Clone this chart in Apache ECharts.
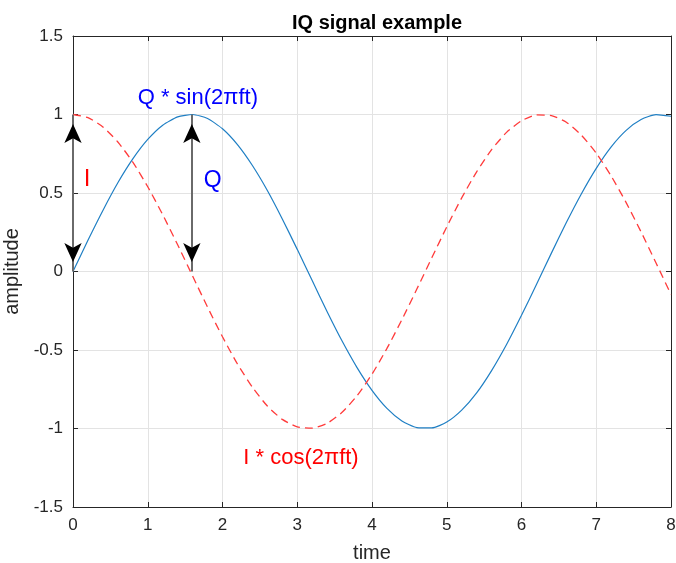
<!DOCTYPE html>
<html><head><meta charset="utf-8">
<script src="https://cdn.jsdelivr.net/npm/echarts@6/dist/echarts.min.js"></script>
<style>html,body{margin:0;padding:0;background:#fff}#c{width:676px;height:563px}</style>
</head><body><div id="c"></div>
<script>
var timeValues = [0,0.2,0.4,0.6,0.8,1.0,1.2,1.4,1.6,1.8,2.0,2.2,2.4,2.6,2.8,3.0,3.2,3.4,3.6,3.8,4.0,4.2,4.4,4.6,4.8,5.0,5.2,5.4,5.6,5.8,6.0,6.2,6.4,6.6,6.8,7.0,7.2,7.4,7.6,7.8,8.0];
var qSin = [0,0.199,0.389,0.565,0.717,0.841,0.932,0.985,1.000,0.974,0.909,0.808,0.675,0.516,0.335,0.141,-0.058,-0.256,-0.443,-0.612,-0.757,-0.872,-0.952,-0.994,-0.996,-0.959,-0.883,-0.773,-0.631,-0.465,-0.279,-0.083,0.117,0.312,0.494,0.657,0.794,0.899,0.968,0.999,0.989];
var iCos = [1,0.980,0.921,0.825,0.697,0.540,0.362,0.170,-0.029,-0.227,-0.416,-0.589,-0.737,-0.857,-0.942,-0.990,-0.998,-0.967,-0.897,-0.791,-0.654,-0.490,-0.307,-0.112,0.087,0.284,0.469,0.635,0.776,0.886,0.960,0.997,0.993,0.951,0.869,0.754,0.608,0.439,0.252,0.054,-0.146];
var arrows = [[0,0,1],[1.59,0,1]];
var labels = [
  {x:1.67, y:1.106, text:'Q * sin(2πft)', color:'#0000ff', size:22},
  {x:0.19, y:0.585, text:'I', color:'#ff0000', size:24},
  {x:1.87, y:0.58, text:'Q', color:'#0000ff', size:23},
  {x:3.05, y:-1.19, text:'I * cos(2πft)', color:'#ff0000', size:22}
];

function zip(xs, ys){ return xs.map(function(x,i){return [x, ys[i]];}); }
var font = 'Helvetica, Arial, "Liberation Sans", sans-serif';
var axisCol = '#262626';
var gridCol = '#e3e3e3';

var arrowHeads = [];
arrows.forEach(function(a){
  arrowHeads.push({value:[a[0],a[2]], symbolRotate:0, symbolOffset:[0,9.5]});
  arrowHeads.push({value:[a[0],a[1]], symbolRotate:180, symbolOffset:[0,-9.5]});
});

var chart = echarts.init(document.getElementById('c'), null, {renderer:'canvas'});
chart.setOption({
  animation:false,
  title:{text:'IQ signal example', left:372, textAlign:'center', top:8,
    textStyle:{fontFamily:font, fontSize:20, fontWeight:'bold', color:'#000'}},
  grid:{left:73, right:5, top:36, bottom:56, containLabel:false, outerBoundsMode:'none'},
  xAxis:[{type:'value', min:0, max:8, interval:1, name:'time', nameLocation:'middle', nameGap:36,
    nameTextStyle:{fontFamily:font, fontSize:20, color:axisCol},
    axisLine:{onZero:false, lineStyle:{color:axisCol}},
    axisTick:{inside:true, length:5, lineStyle:{color:axisCol}},
    axisLabel:{fontFamily:font, fontSize:17, color:axisCol, margin:10},
    splitLine:{show:true, lineStyle:{color:gridCol}}},
   {type:'value', position:'top', min:0, max:8, interval:1,
    axisLine:{onZero:false, lineStyle:{color:axisCol}},
    axisTick:{inside:true, length:5, lineStyle:{color:axisCol}},
    axisLabel:{show:false}, splitLine:{show:false}}],
  yAxis:[{type:'value', min:-1.5, max:1.5, interval:0.5, name:'amplitude', nameLocation:'middle', nameGap:46,
    nameTextStyle:{fontFamily:font, fontSize:20, color:axisCol},
    axisLine:{show:true, onZero:false, lineStyle:{color:axisCol}},
    axisTick:{show:true, inside:true, length:5, lineStyle:{color:axisCol}},
    axisLabel:{fontFamily:font, fontSize:17, color:axisCol, margin:10},
    splitLine:{show:true, lineStyle:{color:gridCol}}},
   {type:'value', position:'right', min:-1.5, max:1.5, interval:0.5,
    axisLine:{show:true, onZero:false, lineStyle:{color:axisCol}},
    axisTick:{show:true, inside:true, length:5, lineStyle:{color:axisCol}},
    axisLabel:{show:false}, splitLine:{show:false}}],
  series:[
    {type:'line', data:zip(timeValues, qSin), showSymbol:false, smooth:0.2,
     lineStyle:{color:'#1f7fc4', width:1.2}, z:3},
    {type:'line', data:zip(timeValues, iCos), showSymbol:false, smooth:0.2,
     lineStyle:{color:'#ff3b3b', width:1.3, type:[8,5]}, z:3},
    {type:'line', data:[], z:4,
     markLine:{silent:true, symbol:['none','none'], label:{show:false},
       lineStyle:{color:'#6a6a6a', width:2, type:'solid'},
       data:arrows.map(function(a){return [{coord:[a[0],a[1]]},{coord:[a[0],a[2]]}];})}},
    {type:'scatter', data:arrowHeads, symbol:'arrow', symbolSize:[13,19], z:5,
     itemStyle:{color:'#000', opacity:1}},
    {type:'scatter', data:labels.map(function(l){return {value:[l.x,l.y], label:{show:true, formatter:l.text, color:l.color, fontSize:l.size}};}),
     symbolSize:0, z:6, itemStyle:{opacity:1},
     label:{show:true, position:'inside', fontFamily:font, opacity:1}}
  ]
});
</script></body></html>
